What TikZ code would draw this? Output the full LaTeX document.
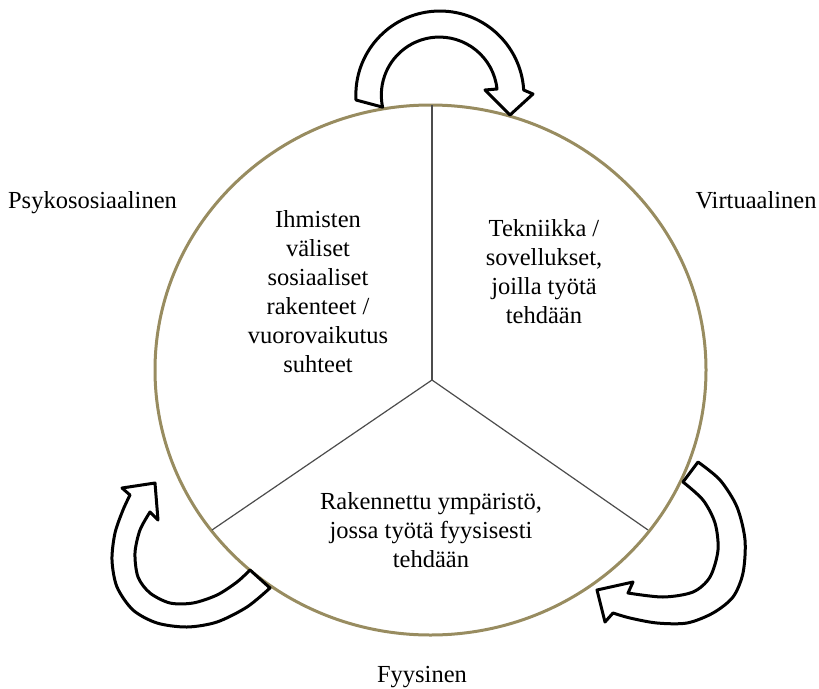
\documentclass[tikz,border=0pt]{standalone}
\usepackage{fontspec}
\setmainfont{Liberation Serif}
\usepackage{tikz}
\usetikzlibrary{
    calc
}
\definecolor{rim}{RGB}{152,140,96}

\begin{document}
\begin{tikzpicture}[x=1pt,y=-1pt,
    area text/.style={font=\fontsize{24.5}{29}\selectfont, inner sep=0pt, align=center},
    turn arrow/.style={draw=black, line width=3pt, fill=white, line join=round}]

\useasboundingbox (0,0) rectangle (819,688);

% Circle
\draw[rim, line width=3pt] (430.5,370) ellipse [x radius=275.5, y radius=265];

% Spokes
\coordinate (mid) at (432,380);
\coordinate (top) at (432,105);
\coordinate (lowleft) at (212,530);
\coordinate (lowright) at (648,530);
\draw[line width=1.2pt, black!70] (mid) -- (top);
\draw[line width=1.2pt, black!70] (mid) -- (lowleft);
\draw[line width=1.2pt, black!70] (mid) -- (lowright);

% Top arrow
\draw[turn arrow] (356,100) arc[start angle=176.6, end angle=356.6, radius=84]
    -- (533,94) -- (510,115) -- (485,90) -- (497,89)
    arc[start angle=354, end angle=168, radius=58] -- cycle;

% Right arrow
\draw[turn arrow] plot[smooth] coordinates {(698,462) (720,480) (737,507) (745,540)
        (743,573) (733,597) (713,613) (687,623) (657,623) (630,618) (613,613)}
    -- (605,622) -- (597,590) -- (633,582)
    -- plot[smooth] coordinates {(628,593) (663,597) (693,592) (710,577) (718,550)
        (715,523) (703,500) (683,482)} -- cycle;

% Left arrow
\draw[turn arrow] plot[smooth] coordinates {(270,588) (247,607) (217,622) (187,627)
        (157,623) (133,610) (117,587) (112,560) (115,533) (123,510) (130,495)}
    -- (122,488) -- (155,483) -- (158,520)
    -- plot[smooth] coordinates {(150,512) (140,530) (135,553) (138,577) (150,593)
        (170,603) (193,603) (217,595) (237,582) (250,570)} -- cycle;

% Texts inside
\node[area text] (social) at (318,292) {Ihmisten\\väliset\\sosiaaliset\\rakenteet /\\vuorovaikutus\\suhteet};
\node[area text] (tech) at (544,272) {Tekniikka /\\sovellukset,\\joilla työtä\\tehdään};
\node[area text] (built) at (431,530) {Rakennettu ympäristö,\\jossa työtä fyysisesti\\tehdään};

% Labels
\node[area text, anchor=base] (psyko) at (92.5,208) {Psykososiaalinen};
\node[area text, anchor=base] (virtu) at (756,208) {Virtuaalinen};
\node[area text, anchor=base] (fyys) at (422,682) {Fyysinen};

\end{tikzpicture}
\end{document}
